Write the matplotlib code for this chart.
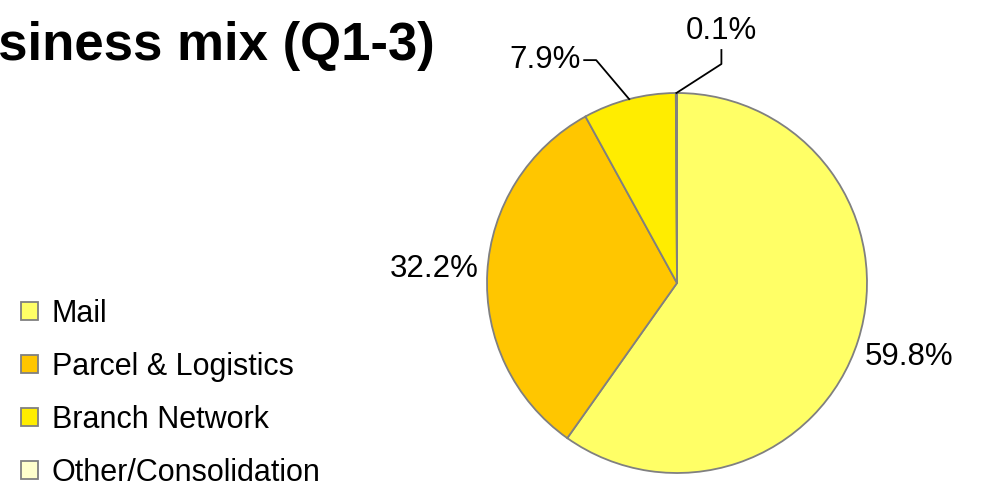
import numpy as np
import matplotlib.pyplot as plt

plt.rcParams['font.family'] = ['Liberation Sans', 'DejaVu Sans']

segments = ['Mail', 'Parcel & Logistics', 'Branch Network', 'Other/Consolidation']
shares = [59.8, 32.2, 7.9, 0.1]
colors = ['#FFFF66', '#FFC600', '#FFED00', '#FFFFCC']

W, H = 982, 486
fig = plt.figure(figsize=(W / 100, H / 100), dpi=100)
ax = fig.add_axes([0, 0, 1, 1])

cx, cy, r = 677, H - 283, 190
wedges, _ = ax.pie(shares, colors=colors, startangle=90, counterclock=False,
                   center=(cx, cy), radius=r, frame=True,
                   wedgeprops=dict(edgecolor='#808080', linewidth=1.3))
ax.set_xlim(0, W)
ax.set_ylim(0, H)
ax.set_aspect('equal')
ax.axis('off')

# mid angle of each wedge
mids = [np.deg2rad((w.theta1 + w.theta2) / 2) for w in wedges]

# big slices: labels just outside the rim
for val, a in zip(shares[:2], mids[:2]):
    ax.text(cx + 1.28 * r * np.cos(a), cy + 1.28 * r * np.sin(a), f'{val:.1f}%',
            fontsize=22.5, ha='center', va='center')

# small slices: labels with leader lines
a = mids[2]
ex, ey = cx + r * np.cos(a), cy + r * np.sin(a)
ax.plot([ex, ex - 33, ex - 45], [ey, ey + 39, ey + 39], color='black', lw=1.3)
ax.text(ex - 48, ey + 39, f'{shares[2]:.1f}%', fontsize=22.5, ha='right', va='center')

a = mids[3]
ex, ey = cx + r * np.cos(a), cy + r * np.sin(a)
ax.plot([ex, ex + 45, ex + 45], [ey, ey + 29, ey + 43], color='black', lw=1.3)
ax.text(ex + 45, ey + 47, f'{shares[3]:.1f}%', fontsize=22.5, ha='center', va='bottom')

fig.text(435 / W, 1 - 60 / H, 'Business mix (Q1-3)', fontsize=38, fontweight='bold',
         ha='right', va='baseline')

fig.legend(wedges, segments, loc='upper left', bbox_to_anchor=(21 / W, 1 - 299 / H),
           frameon=False, fontsize=22, handlelength=0.55, handleheight=0.55,
           handletextpad=0.45, labelspacing=0.75, borderpad=0, borderaxespad=0)

fig.savefig('out.png', dpi=100)
